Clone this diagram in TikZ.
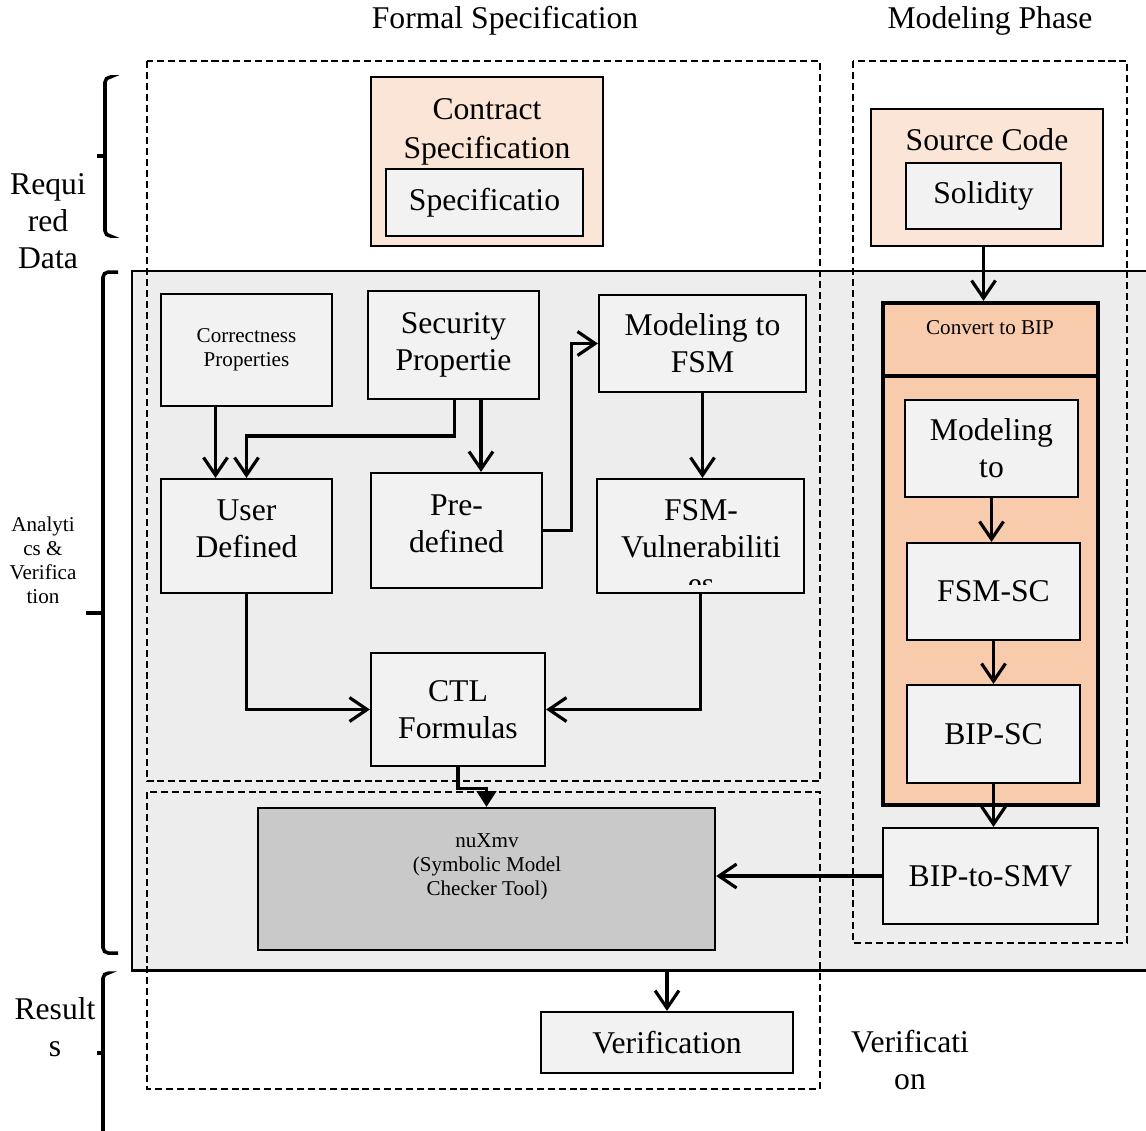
\documentclass[tikz,border=0pt]{standalone}
\usepackage{fontspec}
\setmainfont{Liberation Serif}
\usepackage{tikz}
\usetikzlibrary{arrows.meta}
\usetikzlibrary{calc}

\definecolor{areagray}{HTML}{EDEDED}
\definecolor{boxgray}{HTML}{F2F2F2}
\definecolor{toolgray}{HTML}{C9C9C9}
\definecolor{peachlight}{HTML}{FBE5D6}
\definecolor{peachdark}{HTML}{F8CBAD}

\tikzset{
  big/.style={font=\fontsize{9}{10.5}\selectfont, align=center},
  small/.style={font=\fontsize{6}{6.8}\selectfont, align=center},
  blk/.style={draw, fill=boxgray, line width=0.6pt, inner sep=0pt, big},
  peach/.style={draw, fill=peachlight, line width=0.6pt, inner sep=0pt},
  bip/.style={draw, fill=peachdark, line width=1.2pt, inner sep=0pt},
  phase/.style={line width=0.75pt, dash pattern=on 2pt off 1.1pt},
  flow/.style={line width=0.9pt, -{Straight Barb[length=5pt,width=6.8pt]}},
  brace/.style={line width=1pt, rounded corners=1.5pt},
}

\begin{document}
\begin{tikzpicture}[x=0.01cm, y=-0.01cm]
\useasboundingbox (0,0) rectangle (1146,1130);

% analytics area and phase frames
\node[draw, fill=areagray, line width=0.6pt, minimum width=10.4cm, minimum height=6.99cm,
      inner sep=0pt, anchor=north west] (ana) at (131,270) {};
\draw[phase] (147,61) rectangle (820,781);
\draw[phase] (147,792) rectangle (820,1089);
\draw[phase] (853,61) rectangle (1127,943);

\node[big] (ttlformal) at (505,21) {Formal Specification};
\node[big] (ttlmodel) at (990,21) {Modeling Phase};

% braces on the left
\draw[brace] (110,77) -- (105,77) -- (105,236) -- (110,236);
\draw[brace] (105,156) -- (97,156);
\draw[brace] (118,272) -- (103,272) -- (103,953) -- (118,953);
\draw[brace] (103,613) -- (86,613);
\draw[brace] (108,973) -- (103,973) -- (103,1140);
\draw[brace] (103,1053) -- (97,1053);

\node[big] (lblreq) at (48,221) {Requi\\red\\Data};
\node[small] (lblana) at (43,560) {Analyti\\cs \&\\Verifica\\tion};
\node[big] (lblres) at (55,1027) {Result\\s};
\node[big] (lblver) at (910,1060) {Verificati\\on};

% required data
\node[peach, minimum width=2.32cm, minimum height=1.69cm] (contract) at (487,161.5) {};
\node[big, font=\fontsize{9}{11.3}\selectfont] (contractlbl) at (487,132) {Contract\\Specification};
\node[blk, minimum width=1.97cm, minimum height=0.67cm] (spec) at (484.5,202.5) {Specificatio};

\node[peach, minimum width=2.32cm, minimum height=1.37cm] (src) at (987,177.5) {};
\node[big] (srclbl) at (987,140) {Source Code};
\node[blk, minimum width=1.55cm, minimum height=0.66cm] (sol) at (983.5,196) {Solidity};

% properties and CTL
\node[blk, font=\fontsize{6}{6.8}\selectfont, minimum width=1.71cm, minimum height=1.12cm] (corr) at (246.5,350) {Correctness\\Properties};
\node[blk, minimum width=1.71cm, minimum height=1.08cm] (sec) at (453.5,345) {Security\\Propertie};
\node[blk, text depth=4pt, minimum width=1.71cm, minimum height=1.14cm] (user) at (246.5,536) {User\\Defined};
\node[blk, text depth=4pt, minimum width=1.71cm, minimum height=1.15cm] (pre) at (456.5,530.5) {Pre-\\defined};
\node[blk, minimum width=2.07cm, minimum height=0.97cm] (fsm) at (702.5,343.5) {Modeling to\\FSM};
\node[blk, minimum width=2.07cm, minimum height=1.14cm] (vuln) at (700.5,536) {};
\begin{scope}
\clip (597,479) rectangle (804,584);
\node[big] (vulnlbl) at (701,547) {FSM-\\Vulnerabiliti\\es};
\end{scope}
\node[blk, minimum width=1.74cm, minimum height=1.13cm] (ctl) at (458,709.5) {CTL\\Formulas};

\node[draw, fill=toolgray, line width=0.6pt, minimum width=4.57cm, minimum height=1.42cm] (nux) at (486.5,879) {};
\node[small] (nuxlbl) at (487,867) {nuXmv\\(Symbolic Model\\Checker Tool)};
\node[blk, minimum width=2.52cm, minimum height=0.61cm] (verif) at (667,1042.5) {Verification};

% modeling column
\node[bip, minimum width=2.15cm, minimum height=0.73cm] (cvt) at (990.5,339.5) {};
\node[small] (cvtlbl) at (990,328) {Convert to BIP};
\node[bip, minimum width=2.15cm, minimum height=4.29cm] (bipbox) at (990.5,590.5) {};
\node[blk, minimum width=1.73cm, minimum height=0.97cm] (modto) at (991.5,448.5) {Modeling\\to};
\node[blk, minimum width=1.73cm, minimum height=0.97cm] (fsmsc) at (993.5,591.5) {FSM-SC};
\node[blk, minimum width=1.73cm, minimum height=0.98cm] (bipsc) at (993.5,734) {BIP-SC};
\node[blk, minimum width=2.15cm, minimum height=0.96cm] (smv) at (990.5,876) {BIP-to-SMV};

% connectors
\draw[flow] ($(corr.south)+(-31,0)$) -- ($(user.north)+(-31,0)$);
\draw[flow] ($(sec.south)+(1,0)$) |- ($(user.north)+(0,-42)$) -- (user.north);
\draw[flow] ($(sec.south)+(27.5,0)$) -- ($(pre.north)+(24.5,0)$);
\draw[flow] (pre.east) -- ++(28,0) |- (fsm.west);
\draw[flow] (fsm.south) -- (fsm.south |- vuln.north);
\draw[flow] (user.south) |- (ctl.west);
\draw[flow] (vuln.south) |- (ctl.east);
\draw[line width=0.9pt, -{Triangle[length=4.5pt,width=5.5pt]}] (ctl.south) -- ++(0,21) -| (nux.north);
\draw[flow] (smv.west) -- (smv.west -| nux.east);
\draw[flow] (ana.south -| verif.north) -- (verif.north);
\draw[flow] (sol.south |- src.south) -- (sol.south |- cvt.north);
\draw[flow] (modto.south) -- (modto.south |- fsmsc.north);
\draw[flow] (fsmsc.south) -- (bipsc.north);
\draw[flow] (bipsc.south) -- (bipsc.south |- smv.north);
\end{tikzpicture}
\end{document}
